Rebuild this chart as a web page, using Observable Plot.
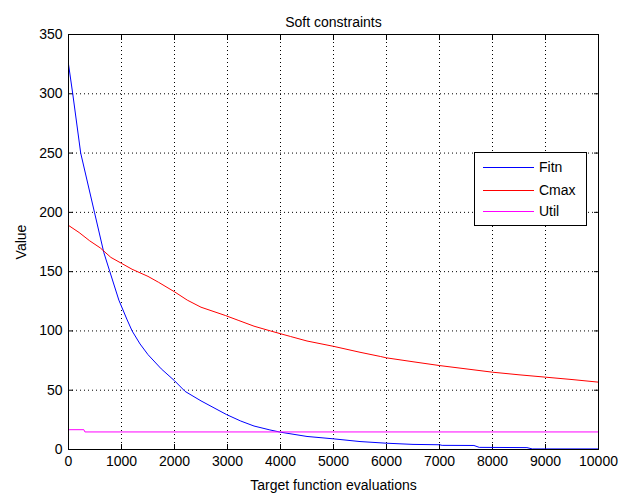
<!DOCTYPE html>
<html>
<head>
<meta charset="utf-8">
<script src="https://cdn.jsdelivr.net/npm/d3@7"></script>
<script src="https://cdn.jsdelivr.net/npm/@observablehq/plot@0.6"></script>
<style>
  html, body { margin: 0; padding: 0; background: #fff; }
  #wrap { position: relative; width: 619px; height: 497px; font-family: "Liberation Sans", Arial, Helvetica, sans-serif; }
  #legend { position: absolute; left: 474px; top: 152px; width: 111px; height: 72px; border: 1px solid #000; background: #fff; box-sizing: content-box; }
  .item { position: absolute; left: 8px; height: 20px; display: flex; align-items: center; font-size: 14px; color: #000; }
  .item .sw { width: 51px; height: 0; border-top: 1px solid; margin-right: 5px; }
</style>
</head>
<body>
<div id="wrap"></div>
<script>
const title = "Soft constraints";
const xLabel = "Target function evaluations";
const yLabel = "Value";
const seriesNames = ["Fitn", "Cmax", "Util"];
const seriesColors = ["#0000ff", "#ff0000", "#ff00ff"];

const fitnEvals = [0, 80, 230, 490, 667, 780, 950, 1100, 1200, 1350, 1500, 1750, 2000, 2200, 2500, 2980, 3250, 3500, 3800, 4000, 4500, 5000, 5500, 6000, 6500, 7000, 7050, 7650, 7750, 8650, 8750, 10000];
const fitnValues = [325, 300, 250, 200, 166, 150, 126, 110, 100, 89, 80, 68, 58, 49, 41, 29.5, 24, 19.8, 16.5, 14.6, 11, 9, 6.7, 5.3, 4.3, 4.0, 3.5, 3.4, 1.8, 1.6, 0.5, 0.5];

const cmaxEvals = [0, 200, 400, 600, 800, 1000, 1200, 1500, 1700, 2000, 2240, 2500, 2960, 3200, 3500, 3810, 4190, 4500, 5000, 5500, 5890, 6000, 6500, 7000, 7500, 8000, 8500, 9000, 9500, 10000];
const cmaxValues = [189, 183, 176, 170, 162, 157, 152, 146, 141, 133, 126, 120, 113, 109, 104, 100, 95.3, 91.5, 87, 82, 78.4, 77.3, 74, 70.8, 68, 65.2, 63, 61, 59, 56.8];

const utilEvals = [0, 290, 310, 10000];
const utilValues = [16.7, 16.7, 14.8, 14.8];

const xTicks = [0, 1000, 2000, 3000, 4000, 5000, 6000, 7000, 8000, 9000, 10000];
const yTicks = [0, 50, 100, 150, 200, 250, 300, 350];

const toRows = (xs, ys, name) => xs.map((x, i) => ({x, y: ys[i], series: name}));
const rows = [
  ...toRows(fitnEvals, fitnValues, "Fitn"),
  ...toRows(cmaxEvals, cmaxValues, "Cmax"),
  ...toRows(utilEvals, utilValues, "Util")
];

const noLabel = () => "";

const chart = Plot.plot({
  width: 619,
  height: 497,
  marginLeft: 68,
  marginRight: 21,
  marginTop: 34,
  marginBottom: 48,
  style: { fontFamily: "Liberation Sans, Arial, Helvetica, sans-serif", fontSize: "14px", color: "#000", background: "#fff" },
  x: { domain: [0, 10000] },
  y: { domain: [0, 350] },
  color: { domain: seriesNames, range: seriesColors },
  marks: [
    Plot.gridX(xTicks, { stroke: "#000", strokeOpacity: 1, strokeDasharray: "1,3" }),
    Plot.gridY(yTicks, { stroke: "#000", strokeOpacity: 1, strokeDasharray: "1,3" }),
    Plot.axisX({ ticks: xTicks, tickSize: -5, tickPadding: 12, tickFormat: d => String(d), label: xLabel, labelAnchor: "center", labelArrow: false, labelOffset: 40, fontSize: 14 }),
    Plot.axisX({ anchor: "top", ticks: xTicks, tickSize: -5, tickFormat: noLabel, label: null }),
    Plot.axisY({ ticks: yTicks, tickSize: -5, tickPadding: 11, tickFormat: d => String(d), label: yLabel, labelAnchor: "center", labelArrow: false, labelOffset: 52, fontSize: 14 }),
    Plot.axisY({ anchor: "right", ticks: yTicks, tickSize: -5, tickFormat: noLabel, label: null }),
    Plot.line(rows, { x: "x", y: "y", z: "series", stroke: "series", strokeWidth: 1 }),
    Plot.frame({ stroke: "#000" }),
    Plot.text([title], { frameAnchor: "top", dy: -17, fontSize: 14, fill: "#000" })
  ]
});

const wrap = document.getElementById("wrap");
wrap.appendChild(chart);

const legend = document.createElement("div");
legend.id = "legend";
const tops = [4, 27, 48];
seriesNames.forEach((name, i) => {
  const item = document.createElement("div");
  item.className = "item";
  item.style.top = tops[i] + "px";
  const sw = document.createElement("span");
  sw.className = "sw";
  sw.style.borderTopColor = seriesColors[i];
  const label = document.createElement("span");
  label.textContent = name;
  item.appendChild(sw);
  item.appendChild(label);
  legend.appendChild(item);
});
wrap.appendChild(legend);
</script>
</body>
</html>
